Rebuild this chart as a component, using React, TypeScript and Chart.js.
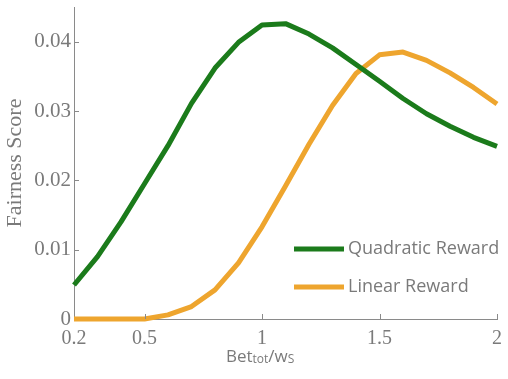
import React, { useEffect, useRef } from "react";
import { Chart, registerables } from "chart.js";

Chart.register(...registerables);

const X_VALUES = [0.2, 0.3, 0.4, 0.5, 0.6, 0.7, 0.8, 0.9, 1.0, 1.1, 1.2, 1.3, 1.4, 1.5, 1.6, 1.7, 1.8, 1.9, 2.0];
const QUADRATIC = [0.0049, 0.009, 0.014, 0.0195, 0.025, 0.0311, 0.0362, 0.0399, 0.0424, 0.0426, 0.0411, 0.0391, 0.0367, 0.0343, 0.0318, 0.0296, 0.0278, 0.0262, 0.0249];
const LINEAR = [0, 0, 0, 0, 0.0006, 0.0018, 0.0042, 0.0081, 0.0133, 0.0192, 0.0252, 0.0308, 0.0354, 0.0381, 0.0385, 0.0373, 0.0355, 0.0334, 0.031];
const SERIES_LABELS = ["Quadratic Reward", "Linear Reward"];
const X_TICKS = [0.2, 0.5, 1, 1.5, 2];
const Y_TICKS = [0, 0.01, 0.02, 0.03, 0.04];
const Y_TITLE = "Fairness Score";
const X_TITLE_PARTS = [
  { text: "Bet", sub: false },
  { text: "tot", sub: true },
  { text: "/w", sub: false },
  { text: "S", sub: true },
];

const GREEN = "#1b7b1b";
const ORANGE = "#eea52e";
const AXIS = "#8a8a8a";
const TEXT = "#7a7a7a";
const SANS = "'Open Sans', 'Noto Sans', sans-serif";
const SERIF = "'Liberation Serif', 'DejaVu Serif', serif";

const decorPlugin = {
  id: "decor",
  afterDraw(chart: any) {
    const ctx = chart.ctx as CanvasRenderingContext2D;
    const xs = chart.scales.x;
    const ys = chart.scales.y;
    const area = chart.chartArea;
    ctx.save();
    // inward tick marks
    ctx.strokeStyle = AXIS;
    ctx.lineWidth = 1;
    ctx.beginPath();
    X_TICKS.forEach((v) => {
      if (v === X_TICKS[0]) return;
      const px = Math.round(xs.getPixelForValue(v)) + 0.5;
      ctx.moveTo(px, area.bottom);
      ctx.lineTo(px, area.bottom - 5);
    });
    Y_TICKS.forEach((v) => {
      if (v === Y_TICKS[0]) return;
      const py = Math.round(ys.getPixelForValue(v)) + 0.5;
      ctx.moveTo(area.left, py);
      ctx.lineTo(area.left + 5, py);
    });
    ctx.stroke();

    // legend
    const rows = [249, 287];
    chart.data.datasets.forEach((ds: any, i: number) => {
      const y = rows[i];
      ctx.strokeStyle = ds.borderColor;
      ctx.lineWidth = 5;
      ctx.lineCap = "butt";
      ctx.beginPath();
      ctx.moveTo(294, y);
      ctx.lineTo(344, y);
      ctx.stroke();
      ctx.fillStyle = TEXT;
      ctx.font = `18px ${SANS}`;
      ctx.textBaseline = "middle";
      ctx.textAlign = "left";
      ctx.fillText(ds.label, 348, y);
    });

    // x title with subscripts
    let x = 226;
    const baseline = 362;
    ctx.fillStyle = TEXT;
    ctx.textBaseline = "alphabetic";
    ctx.textAlign = "left";
    X_TITLE_PARTS.forEach((p) => {
      ctx.font = p.sub ? `12px ${SANS}` : `17px ${SANS}`;
      ctx.fillText(p.text, x, baseline + (p.sub ? 1 : 0));
      x += ctx.measureText(p.text).width;
    });
    ctx.restore();
  },
};

export default function App() {
  const ref = useRef<HTMLCanvasElement | null>(null);
  useEffect(() => {
    document.body.style.margin = "0";
    const canvas = ref.current;
    if (!canvas) return;
    const chart = new Chart(canvas, {
      type: "line",
      data: {
        datasets: [
          {
            label: SERIES_LABELS[0],
            data: X_VALUES.map((x, i) => ({ x, y: QUADRATIC[i] })),
            borderColor: GREEN,
            backgroundColor: GREEN,
            borderWidth: 5,
            pointRadius: 0,
            tension: 0,
            borderJoinStyle: "round",
            clip: false as any,
          },
          {
            label: SERIES_LABELS[1],
            data: X_VALUES.map((x, i) => ({ x, y: LINEAR[i] })),
            borderColor: ORANGE,
            backgroundColor: ORANGE,
            borderWidth: 5,
            pointRadius: 0,
            tension: 0,
            borderJoinStyle: "round",
            clip: false as any,
          },
        ],
      },
      options: {
        responsive: false,
        animation: false,
        devicePixelRatio: 1,
        layout: { padding: { top: 7, right: 11, left: 0, bottom: 0 } },
        plugins: {
          legend: { display: false },
          tooltip: { enabled: false },
        },
        scales: {
          x: {
            type: "linear",
            min: 0.2,
            max: 2,
            afterBuildTicks: (scale: any) => {
              scale.ticks = X_TICKS.map((v) => ({ value: v }));
            },
            afterFit: (scale: any) => {
              scale.height = 60;
              scale.paddingLeft = 0;
              scale.paddingRight = 0;
              scale.paddingTop = 0;
              scale.paddingBottom = 0;
            },
            grid: { display: true, drawOnChartArea: false, drawTicks: false },
            border: { display: true, color: AXIS, width: 1 },
            ticks: {
              padding: 8,
              color: TEXT,
              font: { family: SERIF, size: 20 },
              maxRotation: 0,
              autoSkip: false,
              callback: (v: any) => String(+Number(v).toFixed(2)),
            },
          },
          y: {
            type: "linear",
            min: 0,
            max: 0.045,
            afterBuildTicks: (scale: any) => {
              scale.ticks = Y_TICKS.map((v) => ({ value: v }));
            },
            afterFit: (scale: any) => {
              scale.width = 74;
              scale.paddingLeft = 0;
              scale.paddingRight = 0;
              scale.paddingTop = 0;
              scale.paddingBottom = 0;
            },
            grid: { display: true, drawOnChartArea: false, drawTicks: false },
            border: { display: true, color: AXIS, width: 1 },
            ticks: {
              padding: 3,
              color: TEXT,
              font: { family: SERIF, size: 21 },
              autoSkip: false,
              callback: (v: any) => String(+Number(v).toFixed(3)),
            },
            title: {
              display: true,
              text: Y_TITLE,
              color: TEXT,
              font: { family: SERIF, size: 22 },
              padding: { top: 2, bottom: 0 },
            },
          },
        },
      },
      plugins: [decorPlugin],
    });
    return () => chart.destroy();
  }, []);
  return <canvas ref={ref} width={508} height={379} style={{ display: "block" }} />;
}
